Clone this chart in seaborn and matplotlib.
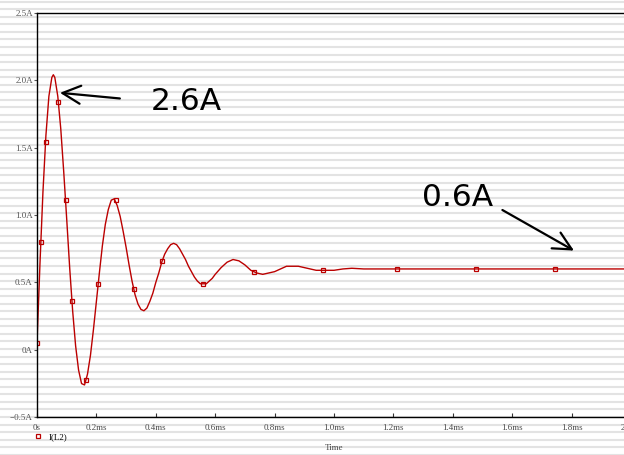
import pandas as pd
import seaborn as sns
import matplotlib.pyplot as plt
from matplotlib.lines import Line2D

# Inductor current I(L2) (time in ms, current in A)
time_ms = [0.00, 0.01, 0.02, 0.03, 0.04, 0.05, 0.055, 0.06, 0.07, 0.08, 0.09,
           0.10, 0.11, 0.12, 0.13, 0.14, 0.15, 0.16, 0.17, 0.18, 0.19,
           0.20, 0.21, 0.22, 0.23, 0.24, 0.25, 0.26, 0.27, 0.28, 0.29,
           0.30, 0.31, 0.32, 0.33, 0.34, 0.35, 0.36, 0.37, 0.38, 0.39,
           0.40, 0.41, 0.42, 0.43, 0.44, 0.45, 0.46, 0.47, 0.48, 0.49,
           0.50, 0.51, 0.52, 0.53, 0.54, 0.55, 0.56, 0.57, 0.58, 0.59,
           0.60, 0.62, 0.64, 0.66, 0.68, 0.70, 0.72, 0.74, 0.76, 0.78,
           0.80, 0.82, 0.84, 0.86, 0.88, 0.90, 0.92, 0.94, 0.96, 0.98,
           1.00, 1.03, 1.06, 1.10, 2.00]
current_a = [0.05, 0.64, 1.17, 1.59, 1.88, 2.02, 2.04, 2.02, 1.88, 1.64, 1.32,
             0.97, 0.61, 0.29, 0.03, -0.15, -0.25, -0.26, -0.18, -0.04, 0.15,
             0.36, 0.57, 0.77, 0.93, 1.04, 1.11, 1.12, 1.07, 0.99, 0.88,
             0.76, 0.63, 0.51, 0.41, 0.34, 0.30, 0.29, 0.31, 0.36, 0.42,
             0.50, 0.57, 0.65, 0.71, 0.75, 0.78, 0.79, 0.78, 0.75, 0.71,
             0.67, 0.62, 0.58, 0.54, 0.51, 0.49, 0.49, 0.49, 0.51, 0.53,
             0.56, 0.61, 0.65, 0.67, 0.66, 0.63, 0.59, 0.57, 0.56, 0.57,
             0.58, 0.60, 0.62, 0.62, 0.62, 0.61, 0.60, 0.59, 0.59, 0.59,
             0.59, 0.60, 0.605, 0.60, 0.60]

# simulation points that carry the square markers
marker_time = [0.0, 0.013, 0.029, 0.072, 0.096, 0.118, 0.165, 0.206, 0.265,
               0.326, 0.421, 0.558, 0.731, 0.962, 1.213, 1.478, 1.743]
marker_current = [0.05, 0.80, 1.54, 1.84, 1.11, 0.36, -0.22, 0.49, 1.11,
                  0.45, 0.66, 0.49, 0.58, 0.59, 0.60, 0.60, 0.60]

x_ticks = [0.0, 0.2, 0.4, 0.6, 0.8, 1.0, 1.2, 1.4, 1.6, 1.8, 2.0]
x_labels = ["0s", "0.2ms", "0.4ms", "0.6ms", "0.8ms", "1.0ms",
            "1.2ms", "1.4ms", "1.6ms", "1.8ms", "2.0ms"]
y_ticks = [-0.5, 0.0, 0.5, 1.0, 1.5, 2.0, 2.5]
y_labels = ["\u22120.5A", "0A", "0.5A", "1.0A", "1.5A", "2.0A", "2.5A"]

RED = "#bb0000"
TICK_FONT = "Liberation Serif"

df = pd.DataFrame({"time": time_ms, "current": current_a})

fig = plt.figure(figsize=(6.24, 4.55), dpi=100)

# scanline stripes of the screenshot background
for k in range(62):
    yf = 1 - (1.7 + 7.55 * k) / 455
    fig.add_artist(Line2D([0, 1], [yf, yf], transform=fig.transFigure,
                          color="#e3e3e3", lw=1.5, zorder=-5))

ax = fig.add_axes([37 / 624, 1 - 417.3 / 455, 594 / 624, 404.6 / 455])
ax.patch.set_alpha(0)

sns.lineplot(data=df, x="time", y="current", color=RED, linewidth=1.0,
             sort=False, estimator=None, ax=ax)
sns.lineplot(x=marker_time, y=marker_current, ax=ax, linestyle="none",
             marker="s", markersize=3.4, markerfacecolor="none",
             markeredgecolor=RED, markeredgewidth=0.9,
             sort=False, estimator=None)

ax.set_xlim(0, 2.0)
ax.set_ylim(-0.5, 2.5)
ax.set_xticks(x_ticks)
ax.set_xticklabels(x_labels, fontfamily=TICK_FONT, fontsize=6.5, color="#4a4a4a")
ax.set_yticks(y_ticks)
ax.set_yticklabels(y_labels, fontfamily=TICK_FONT, fontsize=6.5, color="#555555")
ax.tick_params(axis="x", direction="in", length=3, pad=5, color="#333333")
ax.tick_params(axis="y", direction="out", length=2.5, pad=0.5, color="#555555")

for side in ["left", "bottom", "top"]:
    ax.spines[side].set_color("black")
    ax.spines[side].set_linewidth(1.0)
ax.spines["right"].set_visible(False)

ax.set_ylabel("")
ax.set_xlabel("Time", fontfamily=TICK_FONT, fontsize=6.5, color="#444444")
ax.xaxis.set_label_coords(0.5, -0.0765)
ax.xaxis.label.set_va("center")

# annotations
ax.text(0.383, 1.778, "2.6A", fontsize=22.5, family="DejaVu Sans",
        ha="left", va="baseline")
ax.annotate("", xy=(0.0773, 1.906), xytext=(0.279, 1.864),
            arrowprops=dict(arrowstyle="->,head_length=1.3,head_width=0.65",
                            lw=1.6, color="black", shrinkA=0, shrinkB=0,
                            mutation_scale=10))
ax.text(1.296, 1.067, "0.6A", fontsize=22.5, family="DejaVu Sans",
        ha="left", va="baseline")
ax.annotate("", xy=(1.808, 0.736), xytext=(1.567, 1.037),
            arrowprops=dict(arrowstyle="->,head_length=1.3,head_width=0.65",
                            lw=1.6, color="black", shrinkA=0, shrinkB=0,
                            mutation_scale=10))

# trace legend under the axis
handle = Line2D([], [], linestyle="none", marker="s", markersize=3.4,
                markerfacecolor="none", markeredgecolor=RED, markeredgewidth=0.9)
ax.legend(handles=[handle], labels=["I(L2)"], loc="center left",
          bbox_to_anchor=(34.7 / 624, 1 - 437 / 455),
          bbox_transform=fig.transFigure, frameon=False, borderpad=0,
          borderaxespad=0, handlelength=0.8, handletextpad=0.7,
          prop={"family": TICK_FONT, "size": 6.5})

fig.savefig("out.png", dpi=100)
